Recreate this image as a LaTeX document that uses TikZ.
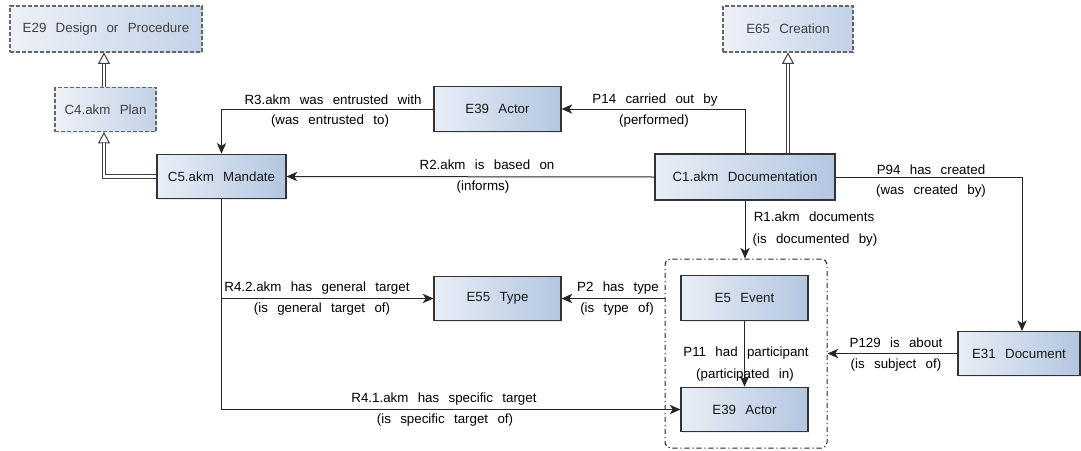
\documentclass[tikz,border=0pt]{standalone}
\usepackage{fontspec}
\setmainfont{Liberation Sans}
\usetikzlibrary{arrows.meta,shadows}
\newcommand\dfont{\fontsize{10}{12}\selectfont\spaceskip=0.7em\relax}
\definecolor{boxL}{HTML}{E8EEF6}
\definecolor{boxR}{HTML}{B3C6E0}
\definecolor{absL}{HTML}{EDF1F7}
\definecolor{absR}{HTML}{C3D2E7}
\begin{document}
\begin{tikzpicture}[x=0.75pt,y=-0.75pt,font=\dfont,
  cls/.style={draw=black!80, line width=0.8pt, left color=boxL, right color=boxR,
    drop shadow={shadow xshift=0.9pt, shadow yshift=-0.9pt, opacity=0.15},
    minimum width=95.25pt, minimum height=33.5pt, inner sep=0pt, text=black!90},
  abs/.style={cls, draw=black!60, dash pattern=on 3pt off 1.5pt, left color=absL, right color=absR, text=black!75},
  rel/.style={draw=black!85, line width=0.75pt, -{Stealth[length=8pt,width=7pt,inset=2.2pt]}},
  isa/.style={draw=black!75, line width=0.75pt, -{Triangle[open,length=8.5pt,width=9pt]}},
  isadbl/.style={draw=black!75, line width=0.75pt, double=white, double distance=1.6pt, shorten >=8.5pt},
  grp/.style={draw=black!85, line width=0.75pt, dash pattern=on 4pt off 2pt on 1pt off 2pt, rounded corners=4pt,
    minimum width=121.5pt, minimum height=141.75pt, inner sep=0pt},
  lbl/.style={inner sep=0pt, text=black}]
\useasboundingbox (0,0) rectangle (1081,450);

% group
\node[grp] (grp) at (746,353.5) {};

% nodes
\node[abs, minimum width=144pt, minimum height=34.5pt] (e29) at (106,29) {E29 Design or Procedure};
\node[abs, minimum width=75.75pt] (c4) at (105.5,109.5) {C4.akm Plan};
\node[cls, minimum width=96.75pt] (c5) at (221.5,176.5) {C5.akm Mandate};
\node[cls] (e39t) at (497.5,109) {E39 Actor};
\node[cls, minimum width=135pt, minimum height=34.5pt] (c1) at (745,177) {C1.akm Documentation};
\node[abs, minimum width=97.5pt, minimum height=34.5pt] (e65) at (788,29) {E65 Creation};
\node[cls] (e55) at (497.5,298.5) {E55 Type};
\node[cls] (e5) at (744.5,298) {E5 Event};
\node[cls] (e39b) at (744.5,409.5) {E39 Actor};
\node[cls, minimum width=91.5pt] (e31) at (1019,353.5) {E31 Document};

% isa (double) arrows
\coordinate (c4b) at (104,132);
\coordinate (c4t) at (104,87);
\draw[isa] (c4t) -- (c4t |- e29.south);
\draw[isadbl] (c4t) -- (c4t |- e29.south);
\draw[isa] (c5.west) -| (c4b);
\draw[isadbl] (c5.west) -| (c4b);
\draw[isa] (c1.north -| e65) -- (e65.south);
\draw[isadbl] (c1.north -| e65) -- (e65.south);

% relations
\draw[rel] (c1.north) |- (e39t.east);
\draw[rel] (e39t.west) -| (c5.north);
\draw[rel] (c1.west) -- (c5.east);
\coordinate (e31top) at (1022,331);
\draw[rel] (c1.east) -| (e31top);
\draw[rel] (c1.south) -- (c1.south |- grp.north);
\draw[rel] (e5.south) -- (e39b.north);
\draw[rel] (grp.west |- e55) -- (e55.east);
\draw[rel] (e31.west) -- (e31.west -| grp.east);
\draw[rel] (c5.south) |- (e55.west);
\draw[rel] (c5.south) |- (e39b.west);

% labels
\node[lbl] (l1a) at (333,100) {R3.akm was entrusted with};
\node[lbl] (l1b) at (330,121) {(was entrusted to)};
\node[lbl] (l2a) at (655,100) {P14 carried out by};
\node[lbl] (l2b) at (654,121) {(performed)};
\node[lbl] (l3a) at (487,165) {R2.akm is based on};
\node[lbl] (l3b) at (483,187) {(informs)};
\node[lbl] (l4a) at (931,170) {P94 has created};
\node[lbl] (l4b) at (931,191) {(was created by)};
\node[lbl] (l5a) at (814,217) {R1.akm documents};
\node[lbl] (l5b) at (815,240) {(is documented by)};
\node[lbl] (l6a) at (317,288) {R4.2.akm has general target};
\node[lbl] (l6b) at (322,309) {(is general target of)};
\node[lbl] (l7a) at (618,288) {P2 has type};
\node[lbl] (l7b) at (617,309) {(is type of)};
\node[lbl] (l8a) at (746,353) {P11 had participant};
\node[lbl] (l8b) at (745,375) {(participated in)};
\node[lbl] (l9a) at (896,343) {P129 is about};
\node[lbl] (l9b) at (896,365) {(is subject of)};
\node[lbl] (l10a) at (444,399) {R4.1.akm has specific target};
\node[lbl] (l10b) at (445,420) {(is specific target of)};
\end{tikzpicture}
\end{document}
